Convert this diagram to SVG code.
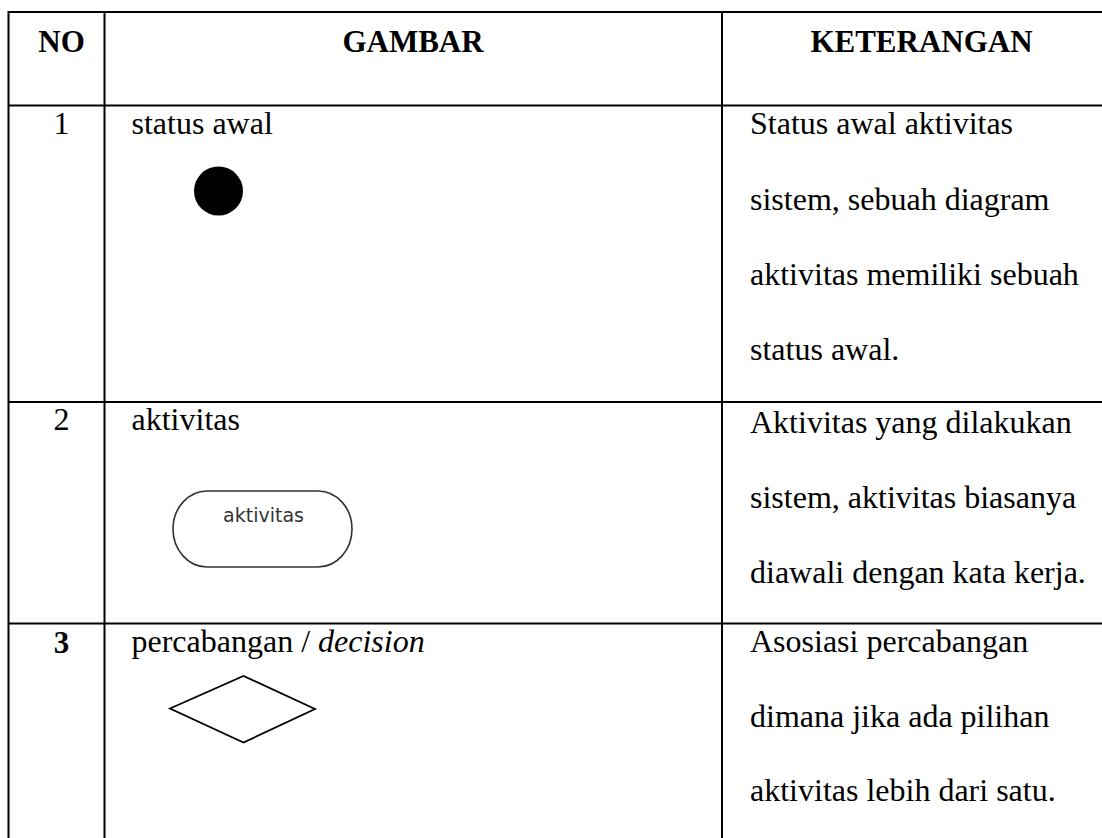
<svg xmlns="http://www.w3.org/2000/svg" width="1102" height="838" viewBox="0 0 1102 838">
  <style>
    .grid { stroke: #000; stroke-width: 2; fill: none; }
    .txt { font-family: "Liberation Serif", "Times New Roman", serif; font-size: 32px; fill: #000; }
    .hd { font-weight: bold; font-size: 31px; }
    .mid { text-anchor: middle; }
    .shape { fill: none; stroke: #000; stroke-width: 1.8; }
  </style>
  <rect width="1102" height="838" fill="#fff"/>

  <!-- table grid -->
  <g id="grid" class="grid">
    <line x1="8.5" y1="12" x2="1110" y2="12"/>
    <line x1="8.5" y1="105.5" x2="1110" y2="105.5"/>
    <line x1="8.5" y1="402" x2="1110" y2="402"/>
    <line x1="8.5" y1="623.5" x2="1110" y2="623.5"/>
    <line x1="8.5" y1="11" x2="8.5" y2="840"/>
    <line x1="104.5" y1="11" x2="104.5" y2="840"/>
    <line x1="722" y1="11" x2="722" y2="840"/>
  </g>

  <!-- header row -->
  <g id="header" class="txt hd">
    <text x="61.5" y="52" class="mid">NO</text>
    <text x="413" y="52" class="mid">GAMBAR</text>
    <text x="921.5" y="52" class="mid">KETERANGAN</text>
  </g>

  <!-- row 1: initial state -->
  <g id="row1" class="txt">
    <text x="61.5" y="134" class="mid">1</text>
    <text x="131.5" y="134">status awal</text>
    <text x="750" y="134">Status awal aktivitas</text>
    <text x="750" y="209.5">sistem, sebuah diagram</text>
    <text x="750" y="285">aktivitas memiliki sebuah</text>
    <text x="750" y="360">status awal.</text>
  </g>
  <g id="node-initial">
    <circle cx="218.5" cy="191" r="24.5" fill="#000"/>
  </g>

  <!-- row 2: activity -->
  <g id="row2" class="txt">
    <text x="61.5" y="430" class="mid">2</text>
    <text x="131.5" y="430">aktivitas</text>
    <text x="750" y="433">Aktivitas yang dilakukan</text>
    <text x="750" y="508">sistem, aktivitas biasanya</text>
    <text x="750" y="583">diawali dengan kata kerja.</text>
  </g>
  <g id="node-activity">
    <rect x="173" y="491" width="179" height="76" rx="34" ry="38" fill="#fff" stroke="#333" stroke-width="1.6"/>
    <text x="263.5" y="521.5" text-anchor="middle" font-family="'DejaVu Sans', Verdana, sans-serif" font-size="19" fill="#333">aktivitas</text>
  </g>

  <!-- row 3: decision -->
  <g id="row3" class="txt">
    <text x="61.5" y="653" class="mid hd">3</text>
    <text x="131.5" y="652">percabangan / <tspan font-style="italic">decision</tspan></text>
    <text x="750" y="651.5">Asosiasi percabangan</text>
    <text x="750" y="726.5">dimana jika ada pilihan</text>
    <text x="750" y="801">aktivitas lebih dari satu.</text>
  </g>
  <g id="node-decision">
    <polygon class="shape" points="170,708.5 243.5,676 315,709 243.5,742.5"/>
  </g>
</svg>
